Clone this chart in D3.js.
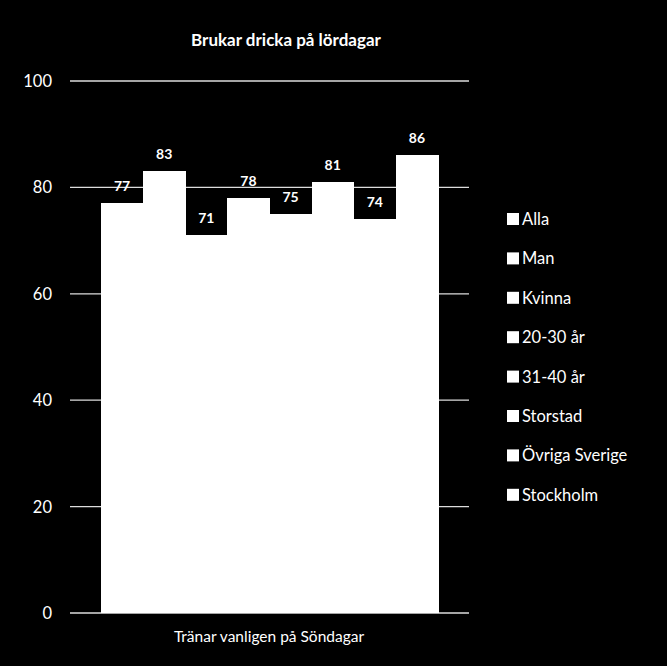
<!DOCTYPE html>
<html>
<head>
<meta charset="utf-8">
<script src="https://cdn.jsdelivr.net/npm/d3@7"></script>
<style>
  body { margin: 0; background: #000; }
  text { font-family: Lato, "Open Sans", sans-serif; fill: #fff; }
</style>
</head>
<body>
<div class="chart"></div>
<script>
const groups = ["Alla", "Man", "Kvinna", "20-30 år", "31-40 år", "Storstad", "Övriga Sverige", "Stockholm"];
const values = [77, 83, 71, 78, 75, 81, 74, 86];
const yTicks = [0, 20, 40, 60, 80, 100];
const category = "Tränar vanligen på Söndagar";
const title = "Brukar dricka på lördagar";

const svg = d3.select(".chart").append("svg").attr("width", 667).attr("height", 666);
svg.append("rect").attr("width", 667).attr("height", 666).attr("fill", "#000");

// plot area
const plotLeft = 70, plotRight = 469, plotTop = 81, plotBottom = 613;

const y = d3.scaleLinear().domain([0, 100]).range([plotBottom, plotTop]);
const x = d3.scaleBand().domain(groups).range([101, 438]).padding(0);

svg.append("text")
  .attr("x", 286).attr("y", 46)
  .attr("text-anchor", "middle")
  .attr("font-weight", "bold")
  .attr("font-size", 17)
  .text(title);

// gridlines
svg.append("g").selectAll("line").data(yTicks).join("line")
  .attr("x1", plotLeft).attr("x2", plotRight)
  .attr("y1", d => y(d)).attr("y2", d => y(d))
  .attr("stroke", "#ddd").attr("stroke-width", 1.3);

// y axis labels
svg.append("g").selectAll("text").data(yTicks).join("text")
  .attr("x", 52).attr("y", d => y(d) + 6)
  .attr("text-anchor", "end")
  .attr("font-size", 16.5)
  .text(d => d);

// bars
svg.append("g").attr("shape-rendering", "crispEdges")
  .selectAll("rect").data(values).join("rect")
  .attr("x", (d, i) => x(groups[i]))
  .attr("width", x.bandwidth() + 0.5)
  .attr("y", d => y(d))
  .attr("height", d => plotBottom - y(d))
  .attr("fill", "#fff");

// value labels
svg.append("g").selectAll("text").data(values).join("text")
  .attr("x", (d, i) => x(groups[i]) + x.bandwidth() / 2)
  .attr("y", d => y(d) - 12)
  .attr("text-anchor", "middle")
  .attr("font-weight", "bold")
  .attr("font-size", 14)
  .text(d => d);

// category label
svg.append("text")
  .attr("x", 269).attr("y", 642)
  .attr("text-anchor", "middle")
  .attr("font-size", 15.5)
  .text(category);

// legend
const legend = svg.append("g").selectAll("g").data(groups).join("g")
  .attr("transform", (d, i) => "translate(507," + (219 + i * 39.4) + ")");
legend.append("rect")
  .attr("x", 0).attr("y", -6).attr("width", 12).attr("height", 12)
  .attr("fill", "#fff");
legend.append("text")
  .attr("x", 15).attr("y", 6)
  .attr("font-size", 16.5)
  .text(d => d);
</script>
</body>
</html>
